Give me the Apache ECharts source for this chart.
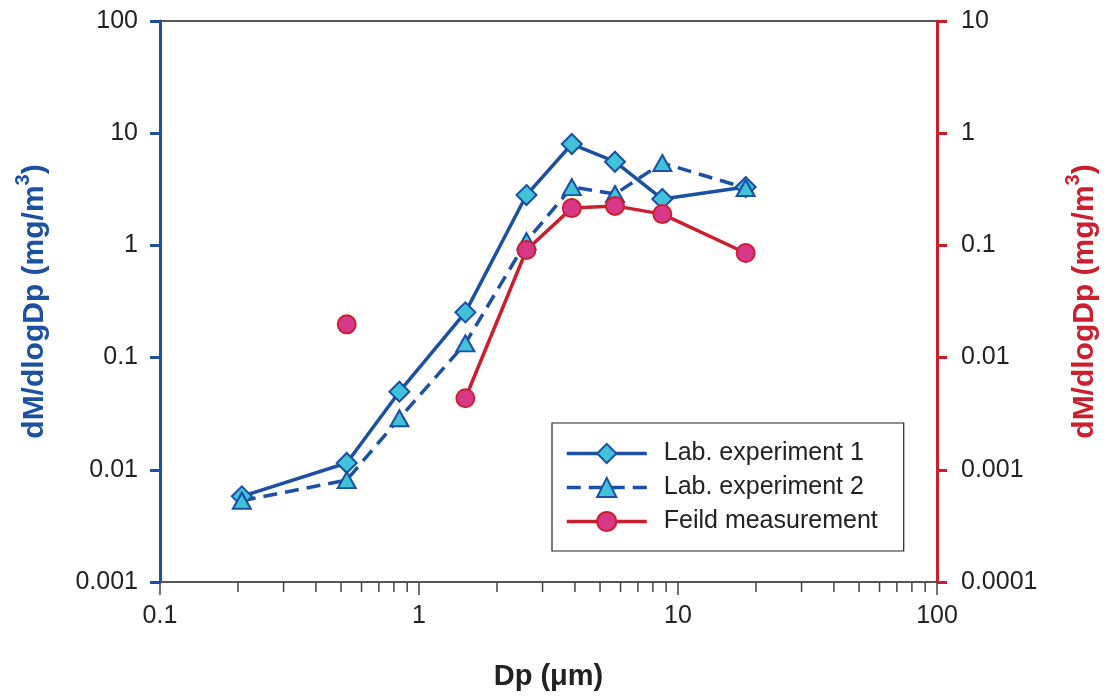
<!DOCTYPE html>
<html>
<head>
<meta charset="utf-8">
<script src="https://cdn.jsdelivr.net/npm/echarts@6/dist/echarts.min.js"></script>
<style>
html,body{margin:0;padding:0;background:#fff;}
#chart{width:1117px;height:699px;}
</style>
</head>
<body>
<div id="chart"></div>
<script>
// ---- data ----
const dp = [0.207, 0.526, 0.84, 1.51, 2.6, 3.89, 5.71, 8.7, 18.25];
const lab1 = [0.0058, 0.0115, 0.0497, 0.253, 2.81, 8.01, 5.57, 2.59, 3.31];
const lab2 = [0.0053, 0.0081, 0.0288, 0.134, 1.09, 3.31, 2.87, 5.42, 3.25];
const field = [null, 0.0198, null, 0.00434, 0.091, 0.215, 0.225, 0.19, 0.0855];
const seriesNames = ['Lab. experiment 1', 'Lab. experiment 2', 'Feild measurement'];
const xMinorTicks = [0.2,0.3,0.4,0.5,0.6,0.7,0.8,0.9,2,3,4,5,6,7,8,9,20,30,40,50,60,70,80,90];
const xRange = [0.1, 100];
const yLeftRange = [0.001, 100];
const yRightRange = [0.0001, 10];

const FONT = 'Liberation Sans';
const BLUE = '#1b50a3';
const CYAN = '#40c2d8';
const RED = '#cc1f2e';
const PINK = '#d8388a';

const pairs = (xs, ys) => xs.map((x, i) => [x, ys[i] === null ? null : ys[i]]);
const fmt = v => String(Number((+v).toPrecision(4)));

const chart = echarts.init(document.getElementById('chart'), null, {renderer: 'canvas'});

const titleRich = color => ({
  a: {fontFamily: FONT, fontSize: 30, fontWeight: 'bold', color: color, lineHeight: 37, verticalAlign: 'bottom'},
  s: {fontFamily: FONT, fontSize: 20, fontWeight: 'bold', color: color, verticalAlign: 'top', lineHeight: 37}
});

const option = {
  backgroundColor: '#fff',
  animation: false,
  grid: {left: 160, right: 180, top: 21, bottom: 117, show: true, borderColor: '#222', borderWidth: 1.5, backgroundColor: 'transparent'},
  legend: {
    orient: 'vertical',
    left: 552, top: 423,
    backgroundColor: '#fff',
    borderColor: '#222', borderWidth: 1.2,
    padding: [16, 26, 15, 13],
    itemWidth: 80, itemHeight: 24, itemGap: 5,
    lineStyle: {width: 3.5},
    textStyle: {fontFamily: FONT, fontSize: 25, color: '#222', lineHeight: 29, padding: [0, 0, 0, 12]},
    data: seriesNames
  },
  xAxis: {
    type: 'log', logBase: 10, min: xRange[0], max: xRange[1],
    name: 'Dp (\u03bcm)', nameLocation: 'middle', nameGap: 80,
    nameTextStyle: {fontFamily: FONT, fontSize: 29, fontWeight: 'bold', color: '#222'},
    axisLine: {show: true, lineStyle: {color: '#555', width: 1.5}},
    axisTick: {show: true, inside: false, length: 13, lineStyle: {color: '#444', width: 1.5}},
    axisLabel: {fontFamily: FONT, fontSize: 25, color: '#222', margin: 22, formatter: fmt},
    splitLine: {show: false}
  },
  yAxis: [
    {
      type: 'log', logBase: 10, min: yLeftRange[0], max: yLeftRange[1], position: 'left',
      name: '{a|dM/dlogDp (mg/m}{s|3}{a|)}', nameLocation: 'middle', nameRotate: 90, nameGap: 110,
      nameTextStyle: {rich: titleRich(BLUE)},
      axisLine: {show: true, lineStyle: {color: BLUE, width: 3}},
      axisTick: {show: true, inside: false, length: 10, lineStyle: {color: BLUE, width: 3}},
      axisLabel: {fontFamily: FONT, fontSize: 25, color: '#222', margin: 22, formatter: fmt},
      splitLine: {show: false}
    },
    {
      type: 'log', logBase: 10, min: yRightRange[0], max: yRightRange[1], position: 'right',
      name: '{a|dM/dlogDp (mg/m}{s|3}{a|)}', nameLocation: 'middle', nameRotate: 90, nameGap: 126,
      nameTextStyle: {rich: titleRich(RED)},
      axisLine: {show: true, lineStyle: {color: RED, width: 3}},
      axisTick: {show: true, inside: false, length: 10, lineStyle: {color: RED, width: 3}},
      axisLabel: {fontFamily: FONT, fontSize: 25, color: '#222', margin: 24, formatter: fmt},
      splitLine: {show: false}
    }
  ],
  series: [
    {
      name: 'minorTicks', type: 'custom', xAxisIndex: 0, yAxisIndex: 0, silent: true, clip: false,
      data: xMinorTicks.map(v => [v, yLeftRange[0]]),
      renderItem: (params, api) => {
        const p = api.coord([api.value(0), api.value(1)]);
        return {type: 'line', shape: {x1: p[0], y1: p[1], x2: p[0], y2: p[1] + 10},
          style: {stroke: '#444', lineWidth: 1.5}};
      },
      z: 1
    },
    {
      name: seriesNames[0], type: 'line', yAxisIndex: 0,
      data: pairs(dp, lab1),
      symbol: 'diamond', symbolSize: 20, showSymbol: true,
      lineStyle: {color: BLUE, width: 3.5},
      itemStyle: {color: CYAN, borderColor: BLUE, borderWidth: 2},
      z: 3
    },
    {
      name: seriesNames[1], type: 'line', yAxisIndex: 0,
      data: pairs(dp, lab2),
      symbol: 'triangle', symbolSize: [18, 16], showSymbol: true,
      lineStyle: {color: BLUE, width: 3.5, type: [14, 8]},
      itemStyle: {color: CYAN, borderColor: BLUE, borderWidth: 2},
      z: 3
    },
    {
      name: seriesNames[2], type: 'line', yAxisIndex: 1,
      data: pairs(dp, field), connectNulls: false,
      symbol: 'circle', symbolSize: 18, showSymbol: true,
      lineStyle: {color: RED, width: 3.5},
      itemStyle: {color: PINK, borderColor: RED, borderWidth: 2},
      z: 3
    }
  ]
};
chart.setOption(option);
</script>
</body>
</html>
